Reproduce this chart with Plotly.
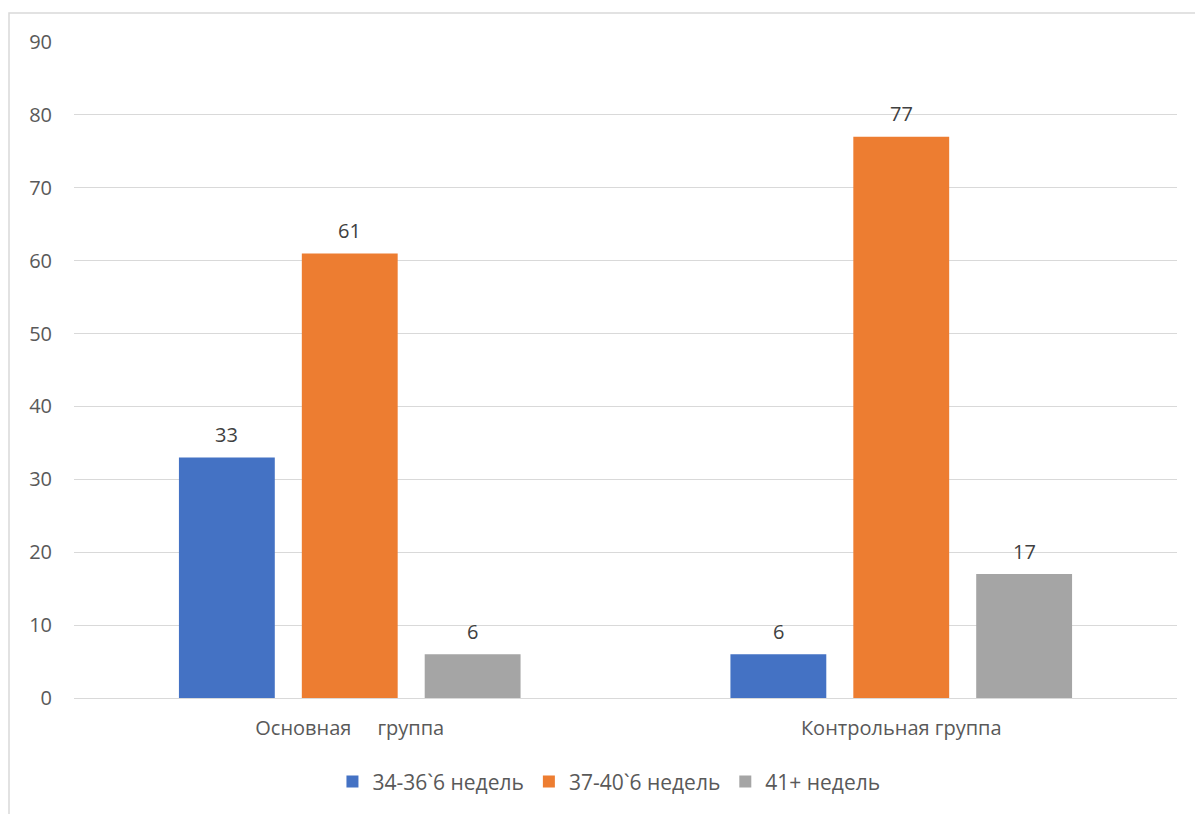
import plotly.graph_objects as go

categories = ["Основная\u00a0\u00a0\u00a0\u00a0 группа", "Контрольная группа"]
series_names = ["34-36`6 недель", "37-40`6 недель", "41+ недель"]
series_values = [
    [33, 6],
    [61, 77],
    [6, 17],
]
colors = ["#4472C4", "#ED7D31", "#A5A5A5"]
y_ticks = [0, 10, 20, 30, 40, 50, 60, 70, 80, 90]

W, H = 1195, 814
ml, mr, mt, mb = 74, 18, 42, 116
bargap = 0.3315
bargroupgap = 0.22

font = "Open Sans, Liberation Sans, sans-serif"
text_color = "#595959"

fig = go.Figure()
for name, vals, col in zip(series_names, series_values, colors):
    fig.add_trace(go.Bar(
        name=name, x=categories, y=vals, marker=dict(color=col, line=dict(width=0)),
    ))

# value labels above each bar
n = len(series_names)
slot = (1 - bargap) / n
for j, vals in enumerate(series_values):
    for i, v in enumerate(vals):
        fig.add_annotation(
            x=i + (j - (n - 1) / 2) * slot, y=v, xref="x", yref="y",
            text=str(v), showarrow=False, yshift=23,
            font=dict(family=font, size=20, color="#404040"),
        )

# outer chart frame
pw = W - ml - mr
ph = H - mt - mb
fig.add_shape(
    type="rect", xref="paper", yref="paper",
    x0=(9 - ml) / pw, x1=(W + 20 - ml) / pw,
    y0=(H - mb - (H + 20)) / ph, y1=(H - mb - 13) / ph,
    line=dict(color="#d9d9d9", width=1.5), fillcolor="rgba(0,0,0,0)", layer="below",
)

fig.update_layout(
    width=W, height=H,
    margin=dict(l=ml, r=mr, t=mt, b=mb),
    paper_bgcolor="white", plot_bgcolor="white",
    barmode="group", bargap=bargap, bargroupgap=bargroupgap,
    font=dict(family=font, size=20, color=text_color),
    showlegend=True,
    legend=dict(
        orientation="h", x=0.485, xanchor="center", y=-0.128, yanchor="middle",
        font=dict(family=font, size=21, color=text_color),
        itemwidth=30, tracegroupgap=0,
    ),
    xaxis=dict(
        showgrid=False, zeroline=False, showline=False, ticks="",
        tickfont=dict(family=font, size=20, color=text_color),
        ticklabelstandoff=16,
    ),
    yaxis=dict(
        range=[0, 90], tickvals=y_ticks, showgrid=True, gridcolor="#d9d9d9",
        gridwidth=1, zeroline=True, zerolinecolor="#d9d9d9", zerolinewidth=1,
        showline=False, ticks="",
        tickfont=dict(family=font, size=20, color=text_color),
        ticklabelstandoff=21,
    ),
)

fig.write_html("out.html")
